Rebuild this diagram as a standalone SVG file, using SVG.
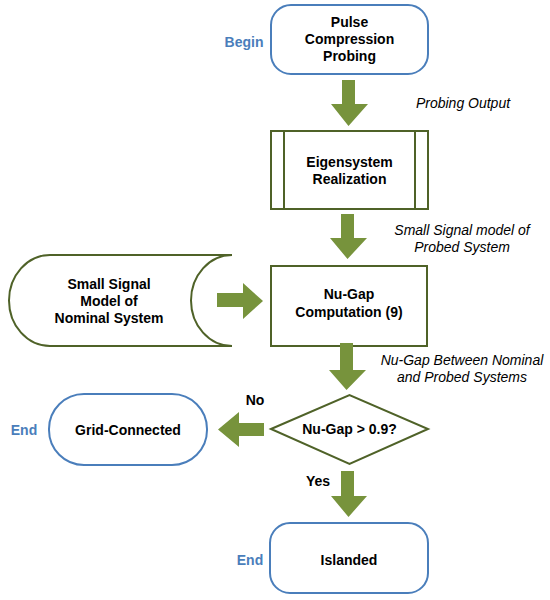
<svg xmlns="http://www.w3.org/2000/svg" width="550" height="600" viewBox="0 0 550 600">
<defs>
<style>
.t{font-family:"Liberation Sans",Arial,sans-serif;font-size:14px;font-weight:bold;fill:#000;text-anchor:middle}
.b{font-family:"Liberation Sans",Arial,sans-serif;font-size:14px;font-weight:bold;fill:#4a7ebb;text-anchor:middle}
.i{font-family:"Liberation Sans",Arial,sans-serif;font-size:14px;font-style:italic;fill:#000;text-anchor:middle}
.term{fill:#fff;stroke:#4a7ebb;stroke-width:2}
.proc{fill:#fff;stroke:#4f6228;stroke-width:2}
.arr{fill:#77933c;stroke:none}
</style>
</defs>
<rect width="550" height="600" fill="#fff"/>
<g id="begin">
<rect class="term" x="271" y="5" width="157" height="69" rx="20"/>
<text class="t" x="349.5" y="27">Pulse</text>
<text class="t" x="349.5" y="44">Compression</text>
<text class="t" x="349.5" y="61">Probing</text>
<text class="b" x="244" y="47">Begin</text>
</g>
<g id="era">
<rect class="proc" x="271" y="131" width="157" height="78"/>
<line class="proc" x1="284" y1="131" x2="284" y2="209"/>
<line class="proc" x1="415" y1="131" x2="415" y2="209"/>
<text class="t" x="349.5" y="167">Eigensystem</text>
<text class="t" x="349.5" y="184">Realization</text>
</g>
<g id="nominal">
<path class="proc" d="M50 255 L232 255 A41 45.5 0 0 0 232 346 L50 346 A41 45.5 0 0 1 50 255 Z"/>
<text class="t" x="109" y="289">Small Signal</text>
<text class="t" x="109" y="306">Model of</text>
<text class="t" x="109" y="323">Nominal System</text>
</g>
<g id="nugap">
<rect class="proc" x="271" y="266" width="156" height="80"/>
<text class="t" x="349" y="299">Nu-Gap</text>
<text class="t" x="349" y="317">Computation (9)</text>
</g>
<g id="decision">
<polygon class="proc" points="271,429 349.5,395 428,429 349.5,464"/>
<text class="t" x="349.5" y="434">Nu-Gap &gt; 0.9?</text>
</g>
<g id="grid">
<rect class="term" x="49" y="394" width="158" height="71" rx="35"/>
<text class="t" x="128" y="435">Grid-Connected</text>
<text class="b" x="24" y="435">End</text>
</g>
<g id="islanded">
<rect class="term" x="270" y="523" width="158" height="70" rx="20"/>
<text class="t" x="349" y="565">Islanded</text>
<text class="b" x="250" y="565">End</text>
</g>
<g id="connectors">
<polygon class="arr" points="342,80 355,80 355,104 368,104 348.5,126 331,104 342,104"/>
<polygon class="arr" points="341,214 354,214 354,238 367,238 347.5,259 330,238 341,238"/>
<polygon class="arr" points="340,343 353,343 353,370 366,370 346.5,390 329,370 340,370"/>
<polygon class="arr" points="341,471 354,471 354,496 367,496 348.5,517 331,496 341,496"/>
<polygon class="arr" points="217,293 243,293 243,283 263,301 243,319 243,307 217,307"/>
<polygon class="arr" points="264,423 239,423 239,412 218,429.5 239,447 239,436 264,436"/>
<text class="i" x="463" y="108">Probing Output</text>
<text class="i" x="462" y="235">Small Signal model of</text>
<text class="i" x="462" y="252">Probed System</text>
<text class="i" x="462" y="365">Nu-Gap Between Nominal</text>
<text class="i" x="462" y="382">and Probed Systems</text>
<text class="t" x="255" y="405">No</text>
<text class="t" x="318" y="486">Yes</text>
</g>
</svg>
